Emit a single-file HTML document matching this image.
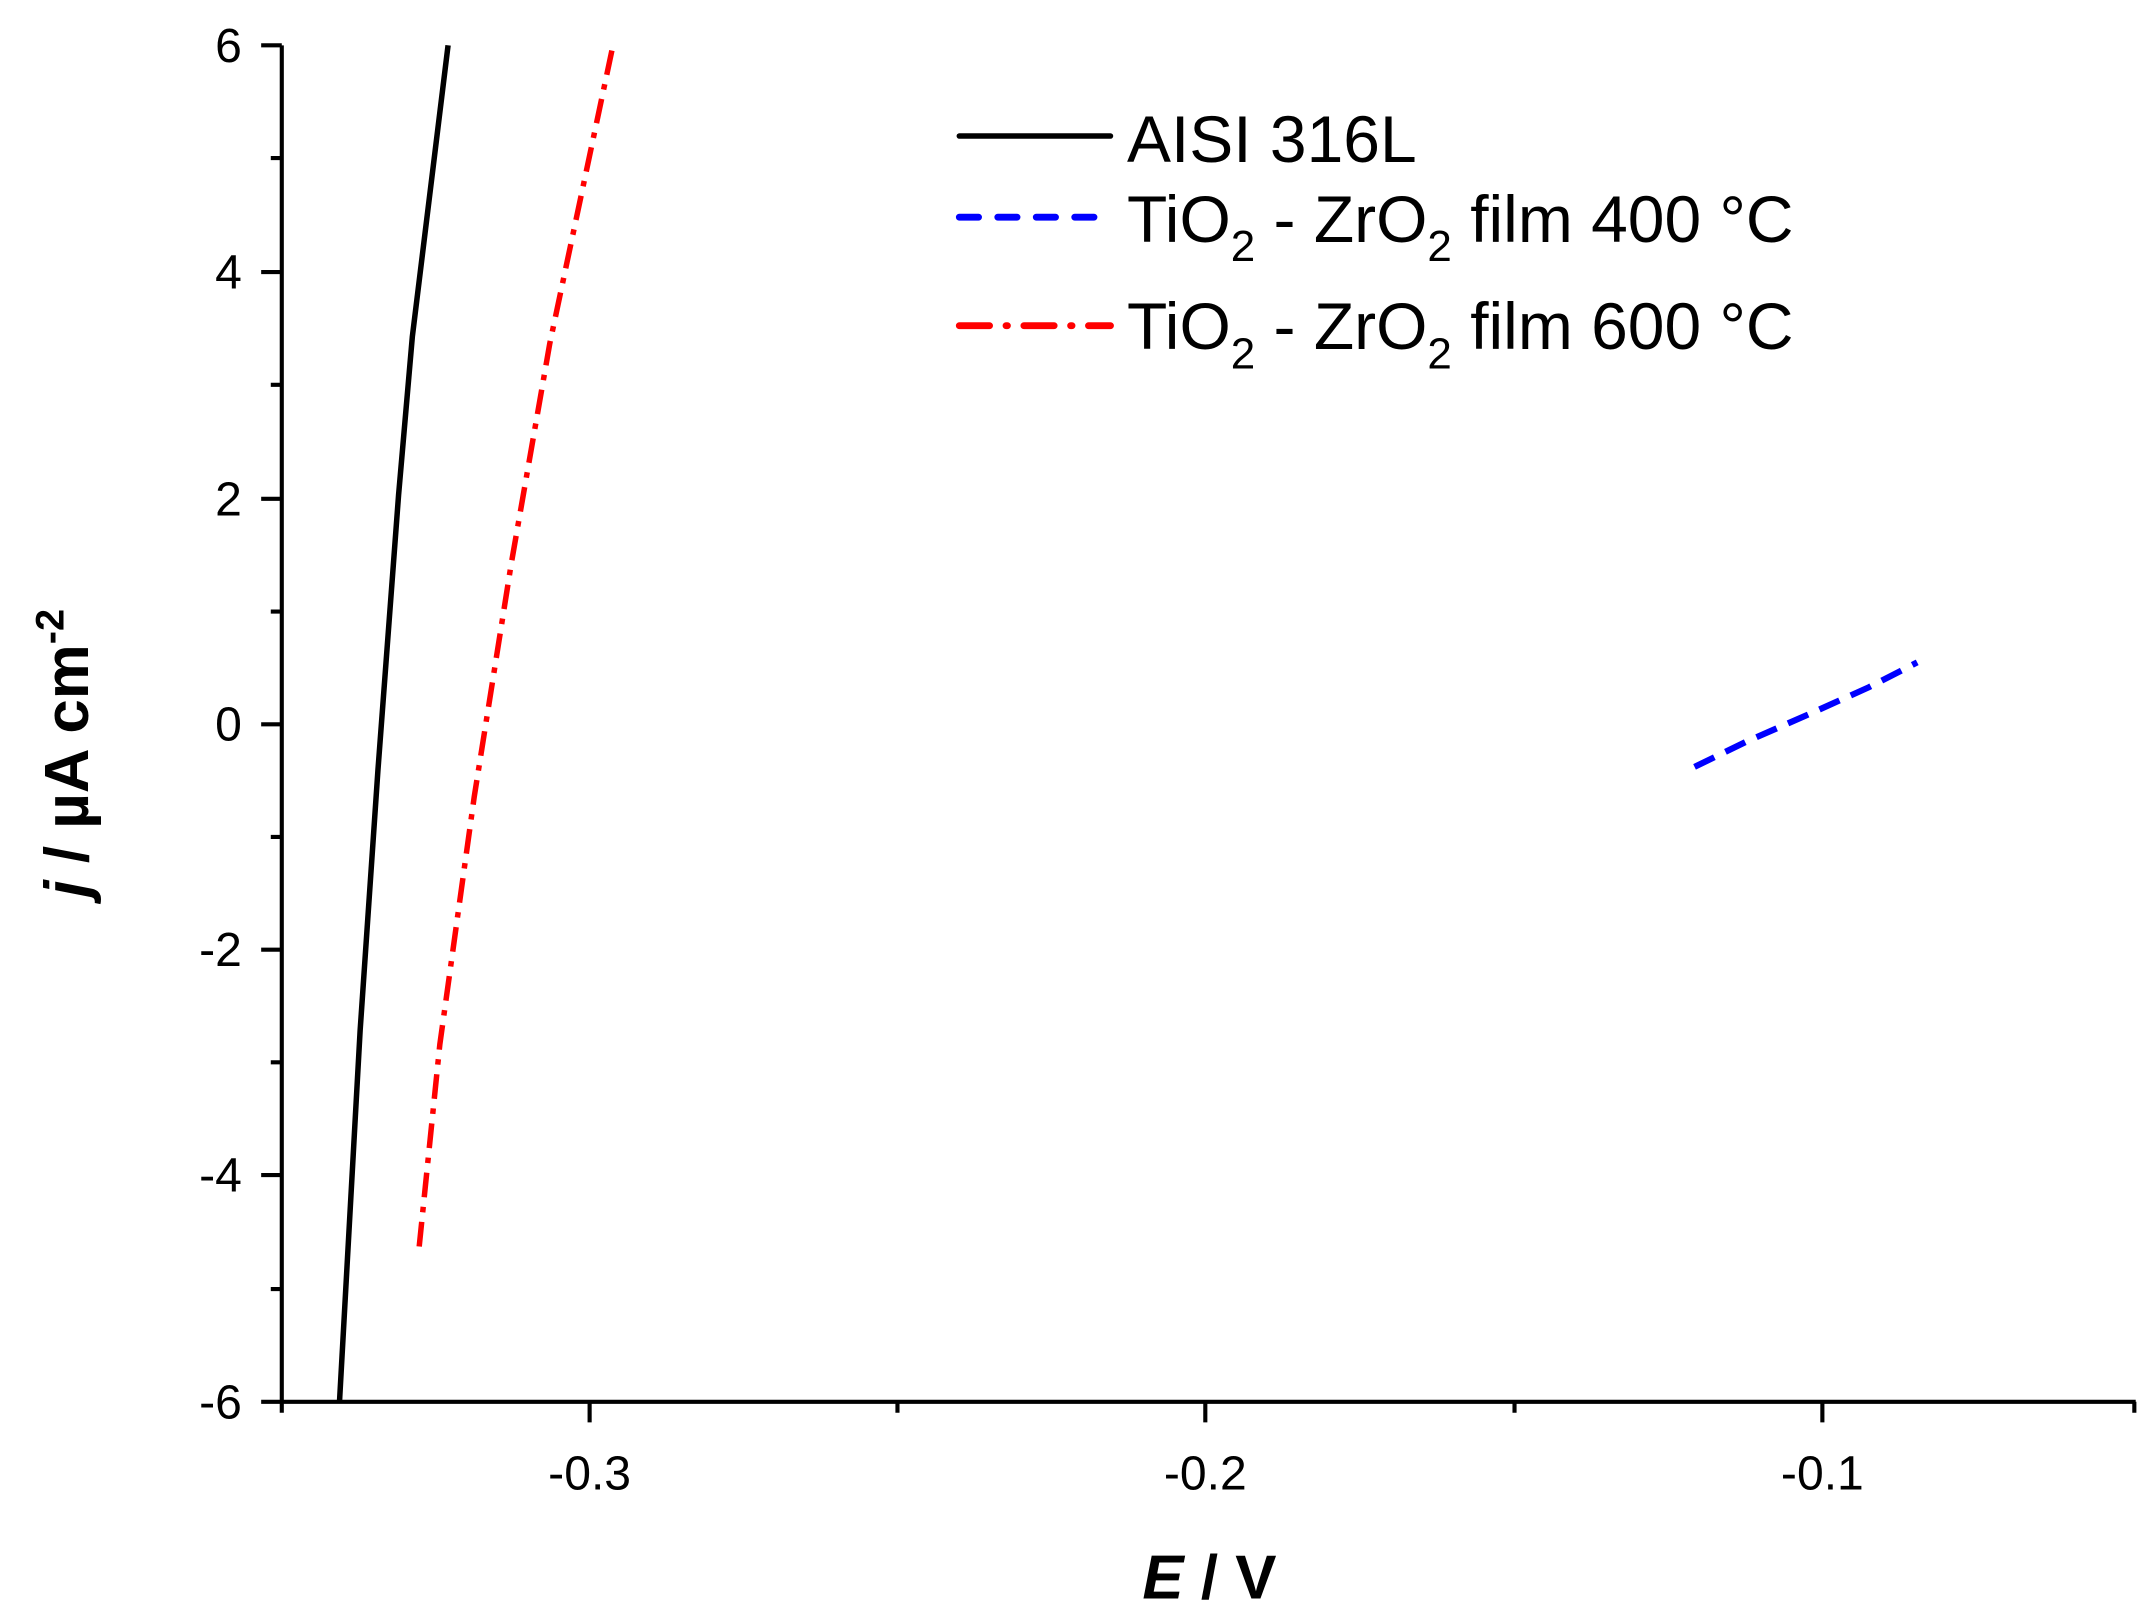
<!DOCTYPE html>
<html><head><meta charset="utf-8"><style>html,body{margin:0;padding:0;background:#fff}svg{display:block}</style></head>
<body>
<svg width="2155" height="1617" viewBox="0 0 1568 1176.6" xmlns="http://www.w3.org/2000/svg" font-family="Liberation Sans, Arial, sans-serif">
<rect width="1568" height="1177" fill="#fff"/>
<g stroke="#000" stroke-width="3" fill="none">
<line x1="205" y1="33" x2="205" y2="1021"/>
<line x1="204" y1="1020" x2="1554" y2="1020"/>
<path d="M190 33H205M190 198H205M190 363H205M190 527H205M190 691H205M190 855H205M190 1020H205"/>
<path d="M197 115H205M197 280H205M197 445H205M197 609H205M197 773H205M197 938H205"/>
<path d="M429 1020V1035M877 1020V1035M1326 1020V1035"/>
<path d="M205 1020V1028M653 1020V1028M1102 1020V1028M1553 1020V1028"/>
</g>
<g font-size="35" text-anchor="end" fill="#000">
<text x="176" y="45">6</text><text x="176" y="210">4</text><text x="176" y="375">2</text><text x="176" y="539">0</text>
<text x="176" y="703">-2</text><text x="176" y="867">-4</text><text x="176" y="1032">-6</text>
</g>
<g font-size="35" text-anchor="middle" fill="#000">
<text x="429" y="1084">-0.3</text><text x="877" y="1084">-0.2</text><text x="1326" y="1084">-0.1</text>
</g>
<text x="880" y="1163" font-size="45" font-weight="bold" text-anchor="middle"><tspan font-style="italic">E</tspan> / V</text>
<text transform="translate(64,548) rotate(-90)" font-size="45" font-weight="bold" text-anchor="middle"><tspan font-style="italic">j</tspan> / µA cm<tspan font-size="29" dy="-18">-2</tspan></text>
<polyline points="247,1020 262,750 275,560 290,360 300,245 326,33" fill="none" stroke="#000" stroke-width="4"/>
<polyline points="305,907 320,760 345,580 372,410 400,250 446,33" fill="none" stroke="#f00" stroke-width="4" stroke-dasharray="18,7,4,7"/>
<polyline points="1233,558 1270,540 1320,518 1360,500 1395,482" fill="none" stroke="#00f" stroke-width="4.5" stroke-dasharray="16,9"/>
<line x1="698" y1="99" x2="808" y2="99" stroke="#000" stroke-width="4" stroke-linecap="round"/>
<line x1="698" y1="158" x2="808" y2="158" stroke="#00f" stroke-width="5" stroke-dasharray="14,14" stroke-linecap="round"/>
<line x1="698" y1="237" x2="808" y2="237" stroke="#f00" stroke-width="5" stroke-dasharray="22,12,1,12" stroke-linecap="round"/>
<g font-size="48" fill="#000">
<text x="820" y="118">AISI 316L</text>
<text x="820" y="176">TiO<tspan font-size="32" dy="14">2</tspan><tspan dy="-14"> - ZrO</tspan><tspan font-size="32" dy="14">2</tspan><tspan dy="-14"> film 400 °C</tspan></text>
<text x="820" y="254">TiO<tspan font-size="32" dy="14">2</tspan><tspan dy="-14"> - ZrO</tspan><tspan font-size="32" dy="14">2</tspan><tspan dy="-14"> film 600 °C</tspan></text>
</g>
</svg>
</body></html>
